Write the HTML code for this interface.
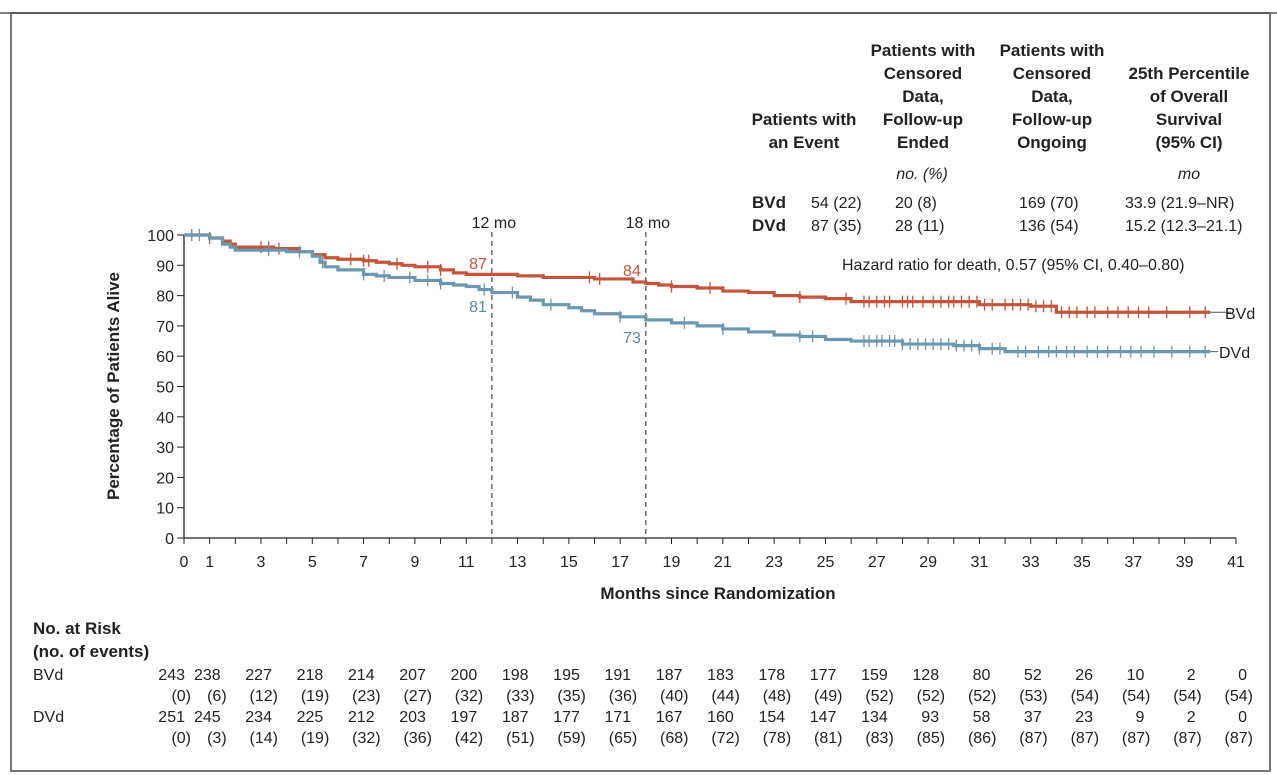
<!DOCTYPE html>
<html><head><meta charset="utf-8"><style>
body{margin:0;background:#fff;}
svg{display:block;font-family:"Liberation Sans","DejaVu Sans",sans-serif;}
</style></head><body>
<svg id="chart" width="1277" height="775" viewBox="0 0 1277 775">
<rect x="11" y="13" width="1259" height="758" fill="none" stroke="#777" stroke-width="2"/>
<line x1="0" y1="13" x2="1277" y2="13" stroke="#555" stroke-width="1.5"/>
<g id="hdr" font-size="17" fill="#222" text-anchor="middle">
<g font-weight="bold">
<text x="804" y="125">Patients with</text><text x="804" y="148">an Event</text>
<text x="923" y="56">Patients with</text><text x="923" y="79">Censored</text><text x="923" y="102">Data,</text><text x="923" y="125">Follow-up</text><text x="923" y="148">Ended</text>
<text x="1052" y="56">Patients with</text><text x="1052" y="79">Censored</text><text x="1052" y="102">Data,</text><text x="1052" y="125">Follow-up</text><text x="1052" y="148">Ongoing</text>
<text x="1189" y="79">25th Percentile</text><text x="1189" y="102">of Overall</text><text x="1189" y="125">Survival</text><text x="1189" y="148">(95% CI)</text>
</g>
<text x="922" y="179" font-style="italic" font-size="16">no. (%)</text>
<text x="1189" y="179" font-style="italic" font-size="16">mo</text>
<g text-anchor="start" font-size="16">
<text x="752" y="208" font-weight="bold" font-size="17">BVd</text><text x="811" y="208">54 (22)</text><text x="895" y="208">20 (8)</text><text x="1019" y="208">169 (70)</text><text x="1125" y="208">33.9 (21.9–NR)</text>
<text x="752" y="231" font-weight="bold" font-size="17">DVd</text><text x="811" y="231">87 (35)</text><text x="895" y="231">28 (11)</text><text x="1019" y="231">136 (54)</text><text x="1125" y="231">15.2 (12.3–21.1)</text>
<text x="842" y="270">Hazard ratio for death, 0.57 (95% CI, 0.40–0.80)</text>
</g>
</g>
<g id="axes"></g>
<g id="plot"></g>
<g id="risk"></g>
</svg>
<script>
const months=[0,1,3,5,7,9,11,13,15,17,19,21,23,25,27,29,31,33,35,37,39,41];
const yTicks=[0,10,20,30,40,50,60,70,80,90,100];
const bvdT=[0,1,1.5,1.8,2,3.5,4.5,5,5.5,6,7,7.5,8,8.5,9,10,10.5,11,13,14,16,17.5,18,18.5,19,20,21,22,23,24,25,26,31,33,34,40];
const bvdS=[100,99,98,97,96,95.5,94.5,93.5,92.5,92,91.5,91,90.5,90,89.5,88.5,87.5,87,86.5,86,85.5,84.5,84,83.5,83,82.5,81.5,81,80,79.5,79,78,77,76.5,74.5,74.5];
const dvdT=[0,1,1.5,1.8,2,4,5,5.3,5.5,6,7,7.5,8,9,10,10.5,11,11.5,12,13,13.5,14,15,15.5,16,17,18,19,20,21,22,23,24,25,26,28,30,31,32,40];
const dvdS=[100,99,97,96,95,94.5,93,91,89.5,88.5,87,86.5,86,85,84,83.5,83,82,81,79.5,78.5,77,76,75,74,73,72,71,70,69,68,67,66.5,65.5,65,64,63.5,62.5,61.5,61.5];
const bvdCens=[0.3,1,3,3.3,3.7,6.5,7,7.2,8.3,9.5,10,15.8,16.2,19,20.5,24,25.8,26.5,26.7,27,27.3,27.5,28,28.2,28.4,28.8,29.2,29.5,29.8,30,30.3,30.6,30.9,31.2,31.5,32,32.3,32.6,32.9,33.2,33.5,33.8,34.2,34.5,34.8,35.2,35.5,36,36.4,36.8,37.2,37.6,38.3,39.2,39.8];
const dvdCens=[0.3,0.6,3.3,4.5,5.4,7,7.8,8.8,9.5,10,11.7,12.8,14.3,17,19.5,21,24,24.5,26.5,26.7,27,27.2,27.5,27.7,28,28.3,28.6,28.9,29.2,29.5,29.8,30.1,30.4,30.7,31,31.5,31.8,32.5,32.8,33.3,33.7,34,34.4,34.7,35.2,35.6,36,36.5,36.9,37.3,37.8,38.5,39.2,39.8];
const riskB=[243,238,227,218,214,207,200,198,195,191,187,183,178,177,159,128,80,52,26,10,2,0];
const evB=[0,6,12,19,23,27,32,33,35,36,40,44,48,49,52,52,52,53,54,54,54,54];
const riskD=[251,245,234,225,212,203,197,187,177,171,167,160,154,147,134,93,58,37,23,9,2,0];
const evD=[0,3,14,19,32,36,42,51,59,65,68,72,78,81,83,85,86,87,87,87,87,87];
const X=m=>184+m*(1052/41), Y=v=>538-v*3.03;
const NS="http://www.w3.org/2000/svg";
function mk(p,tag,at,txt){const e=document.createElementNS(NS,tag);for(const k in at)e.setAttribute(k,at[k]);if(txt!==undefined)e.textContent=txt;p.appendChild(e);return e;}
const ax=document.getElementById('axes'),pl=document.getElementById('plot'),rk=document.getElementById('risk');
let e=mk(ax,'line',{x1:X(0),y1:Y(0),x2:X(41),y2:Y(0),stroke:'#222','stroke-width':1.3});


e=mk(ax,'line',{x1:X(0),y1:Y(0),x2:X(0),y2:Y(100),stroke:'#222','stroke-width':1.3});


for(let m=0;m<=41;m++){mk(ax,'line',{x1:X(m),y1:Y(0),x2:X(m),y2:Y(0)+6,stroke:'#222','stroke-width':1});}
months.forEach(m=>{const t=mk(ax,'text',{x:X(m),y:567,'text-anchor':'middle','font-size':16,fill:'#222'},m);

});
yTicks.forEach(v=>{mk(ax,'line',{x1:X(0)-7,y1:Y(v),x2:X(0),y2:Y(v),stroke:'#222'});
const t=mk(ax,'text',{x:X(0)-10,y:Y(v)+6,'text-anchor':'end','font-size':16,fill:'#222'},v);

});
e=mk(ax,'text',{x:718,y:599,'text-anchor':'middle','font-size':17,'font-weight':'bold',fill:'#222'},'Months since Randomization');


e=mk(ax,'text',{x:0,y:0,transform:'translate(119,386) rotate(-90)','text-anchor':'middle','font-size':17,'font-weight':'bold',fill:'#222'},'Percentage of Patients Alive');


[[12,'12 mo'],[18,'18 mo']].forEach(([m,l])=>{
const d=mk(ax,'line',{x1:X(m),y1:232,x2:X(m),y2:Y(0),stroke:'#222','stroke-dasharray':'5,4'});


mk(ax,'text',{x:X(m)+2,y:228,'text-anchor':'middle','font-size':16,fill:'#222'},l);});
function curve(T,S,cens,col,name){
let d='M'+X(T[0])+','+Y(S[0]);
for(let i=1;i<T.length;i++){d+=' H'+X(T[i])+' V'+Y(S[i]);}
const p=mk(pl,'path',{d:d,fill:'none',stroke:col,'stroke-width':3.2});


const sAt=m=>{let s=S[0];for(let i=0;i<T.length;i++)if(T[i]<=m)s=S[i];return s;};
cens.forEach(m=>{const y=Y(sAt(m));mk(pl,'line',{x1:X(m),y1:y-6,x2:X(m),y2:y+6,stroke:col,'stroke-width':1.3});});
}
curve(bvdT,bvdS,bvdCens,'#c4553b','bvd');
curve(dvdT,dvdS,dvdCens,'#6b98ae','dvd');
mk(pl,'line',{x1:X(40),y1:Y(74.5),x2:X(40.8),y2:Y(74.5),stroke:'#555'});
mk(pl,'line',{x1:X(40),y1:Y(61.5),x2:X(40.3),y2:Y(61.5),stroke:'#555'});
e=mk(pl,'text',{x:1225,y:319,'font-size':16,fill:'#222'},'BVd');


e=mk(pl,'text',{x:1219,y:358,'font-size':16,fill:'#222'},'DVd');


mk(pl,'text',{x:X(12)-5,y:269,'text-anchor':'end','font-size':16,fill:'#c4553b'},'87');
mk(pl,'text',{x:X(12)-5,y:312,'text-anchor':'end','font-size':16,fill:'#5d8aa0'},'81');
mk(pl,'text',{x:X(18)-5,y:276,'text-anchor':'end','font-size':16,fill:'#c4553b'},'84');
mk(pl,'text',{x:X(18)-5,y:343,'text-anchor':'end','font-size':16,fill:'#5d8aa0'},'73');
e=mk(rk,'text',{x:33,y:634,'font-size':17,'font-weight':'bold',fill:'#222'},'No. at Risk');


mk(rk,'text',{x:33,y:657,'font-size':17,'font-weight':'bold',fill:'#222'},'(no. of events)');
mk(rk,'text',{x:33,y:680,'font-size':16,fill:'#222'},'BVd');
mk(rk,'text',{x:33,y:722,'font-size':16,fill:'#222'},'DVd');
function row(vals,y,paren){vals.forEach((v,i)=>{const m=months[i];const off=paren?(i==0?7:17):(i==0?1:11);
const t=mk(rk,'text',{x:X(m)+off,y:y,'text-anchor':'end','font-size':16,fill:'#222'},paren?'('+v+')':v);

});}
row(riskB,680,false);row(evB,701,true);row(riskD,722,false);row(evD,743,true);
</script>
</body></html>
